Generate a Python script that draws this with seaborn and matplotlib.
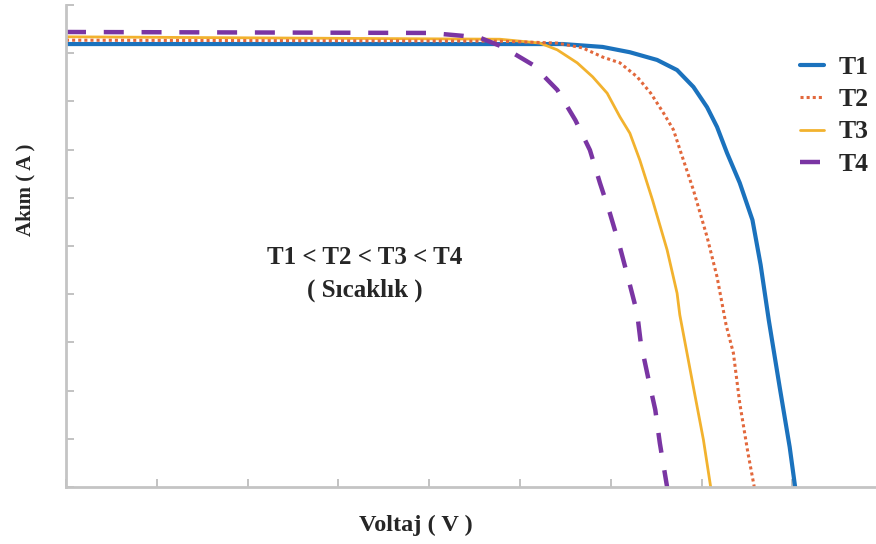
import numpy as np
import pandas as pd
import matplotlib
matplotlib.use("Agg")
import matplotlib.pyplot as plt
import seaborn as sns

# ---- data (arbitrary units) ----
t1_v = [0.00, 4.01, 5.47, 5.91, 6.21, 6.51, 6.73, 6.91, 7.06, 7.17, 7.28, 7.42, 7.56, 7.65, 7.74, 7.86, 7.97, 8.03]
t1_i = [9.19, 9.19, 9.19, 9.13, 9.02, 8.86, 8.65, 8.30, 7.88, 7.47, 6.93, 6.31, 5.54, 4.61, 3.46, 2.07, 0.83, 0.00]

t2_v = [0.00, 4.78, 5.41, 5.69, 5.91, 6.10, 6.29, 6.44, 6.58, 6.69, 6.77, 6.91, 7.06, 7.17, 7.27, 7.35, 7.42, 7.51, 7.58]
t2_i = [9.27, 9.25, 9.21, 9.11, 8.92, 8.80, 8.51, 8.17, 7.76, 7.41, 6.95, 6.16, 5.19, 4.36, 3.36, 2.78, 1.74, 0.71, 0.00]

t3_v = [0.00, 4.78, 5.22, 5.41, 5.63, 5.80, 5.96, 6.10, 6.21, 6.32, 6.46, 6.62, 6.73, 6.76, 6.91, 7.02, 7.10]
t3_i = [9.34, 9.29, 9.21, 9.07, 8.80, 8.51, 8.17, 7.68, 7.34, 6.78, 5.95, 4.92, 4.02, 3.57, 2.07, 0.98, 0.00]

t4_v = [0.00, 4.01, 4.37, 4.56, 4.81, 5.14, 5.41, 5.61, 5.77, 5.88, 5.99, 6.10, 6.19, 6.29, 6.33, 6.41, 6.49, 6.54, 6.62]
t4_i = [9.44, 9.42, 9.36, 9.32, 9.13, 8.76, 8.24, 7.61, 6.99, 6.31, 5.68, 4.98, 4.34, 3.61, 2.99, 2.28, 1.60, 0.91, 0.00]

series_names = ["T1", "T2", "T3", "T4"]
x_ticks = list(range(0, 10))
y_ticks = list(range(0, 11))

x_label = "Voltaj ( V )"
y_label = "Akım ( A )"
note_1 = "T1 < T2 < T3 < T4"
note_2 = "( Sıcaklık )"

# ---- figure ----
sns.set_theme(style="white")
plt.rcParams["font.family"] = ["Liberation Serif", "DejaVu Serif"]

W, H = 876, 544
fig = plt.figure(figsize=(W / 100, H / 100), dpi=100)
ax = fig.add_axes([66 / W, 57 / H, 1 - 66 / W, (487 - 5) / H])

styles = {
    "T1": dict(color="#1b72bd", lw=3.0, ls="-"),
    "T2": dict(color="#e2683c", lw=2.2, ls=(0, (1.0, 1.0))),
    "T3": dict(color="#f2b22e", lw=2.0, ls="-"),
    "T4": dict(color="#7a35a3", lw=3.2, ls=(0, (4.5, 4.0))),
}

data = {"T1": (t1_v, t1_i), "T2": (t2_v, t2_i), "T3": (t3_v, t3_i), "T4": (t4_v, t4_i)}

for name in ["T1", "T3", "T2", "T4"]:
    v, i = data[name]
    df = pd.DataFrame({"V": v, "I": i})
    st = styles[name]
    sns.lineplot(data=df, x="V", y="I", ax=ax, sort=False, color=st["color"],
                 linewidth=st["lw"], linestyle=st["ls"], label=name, estimator=None)

ax.set_xticks(x_ticks)
ax.set_yticks(y_ticks)
ax.set_xlim(0, (W - 66) / 90.8)
ax.set_ylim(0, 10)
ax.set_xticklabels([])
ax.set_yticklabels([])
ax.tick_params(axis="both", direction="in", length=6, width=1.2, color="#b8b8b8",
               left=True, bottom=True)
for s in ["top", "right"]:
    ax.spines[s].set_visible(False)
for s in ["left", "bottom"]:
    ax.spines[s].set_color("#c4c4c4")
    ax.spines[s].set_linewidth(2.0)
ax.set_xlabel("")
ax.set_ylabel("")

fig.text(416 / W, 1 - 525 / H, x_label, ha="center", va="center",
         fontsize=17.5, fontweight="bold")
fig.text(25 / W, 1 - 190 / H, y_label, ha="center", va="center",
         rotation=90, fontsize=15, fontweight="bold")
fig.text(365 / W, 1 - 258 / H, note_1, ha="center", va="center",
         fontsize=18, fontweight="bold")
fig.text(365 / W, 1 - 290 / H, note_2, ha="center", va="center",
         fontsize=18, fontweight="bold")

handles, labels = ax.get_legend_handles_labels()
order = [labels.index(n) for n in series_names]
ax.legend([handles[k] for k in order], [labels[k] for k in order],
          loc="upper left", bbox_to_anchor=(800 / W, 1 - 56 / H),
          bbox_transform=fig.transFigure, frameon=False, borderpad=0,
          borderaxespad=0, handlelength=0.95, handletextpad=0.55,
          labelspacing=0.36,
          prop=dict(family="Liberation Serif", weight="bold", size=18.5))

fig.savefig("out.png", dpi=100)
